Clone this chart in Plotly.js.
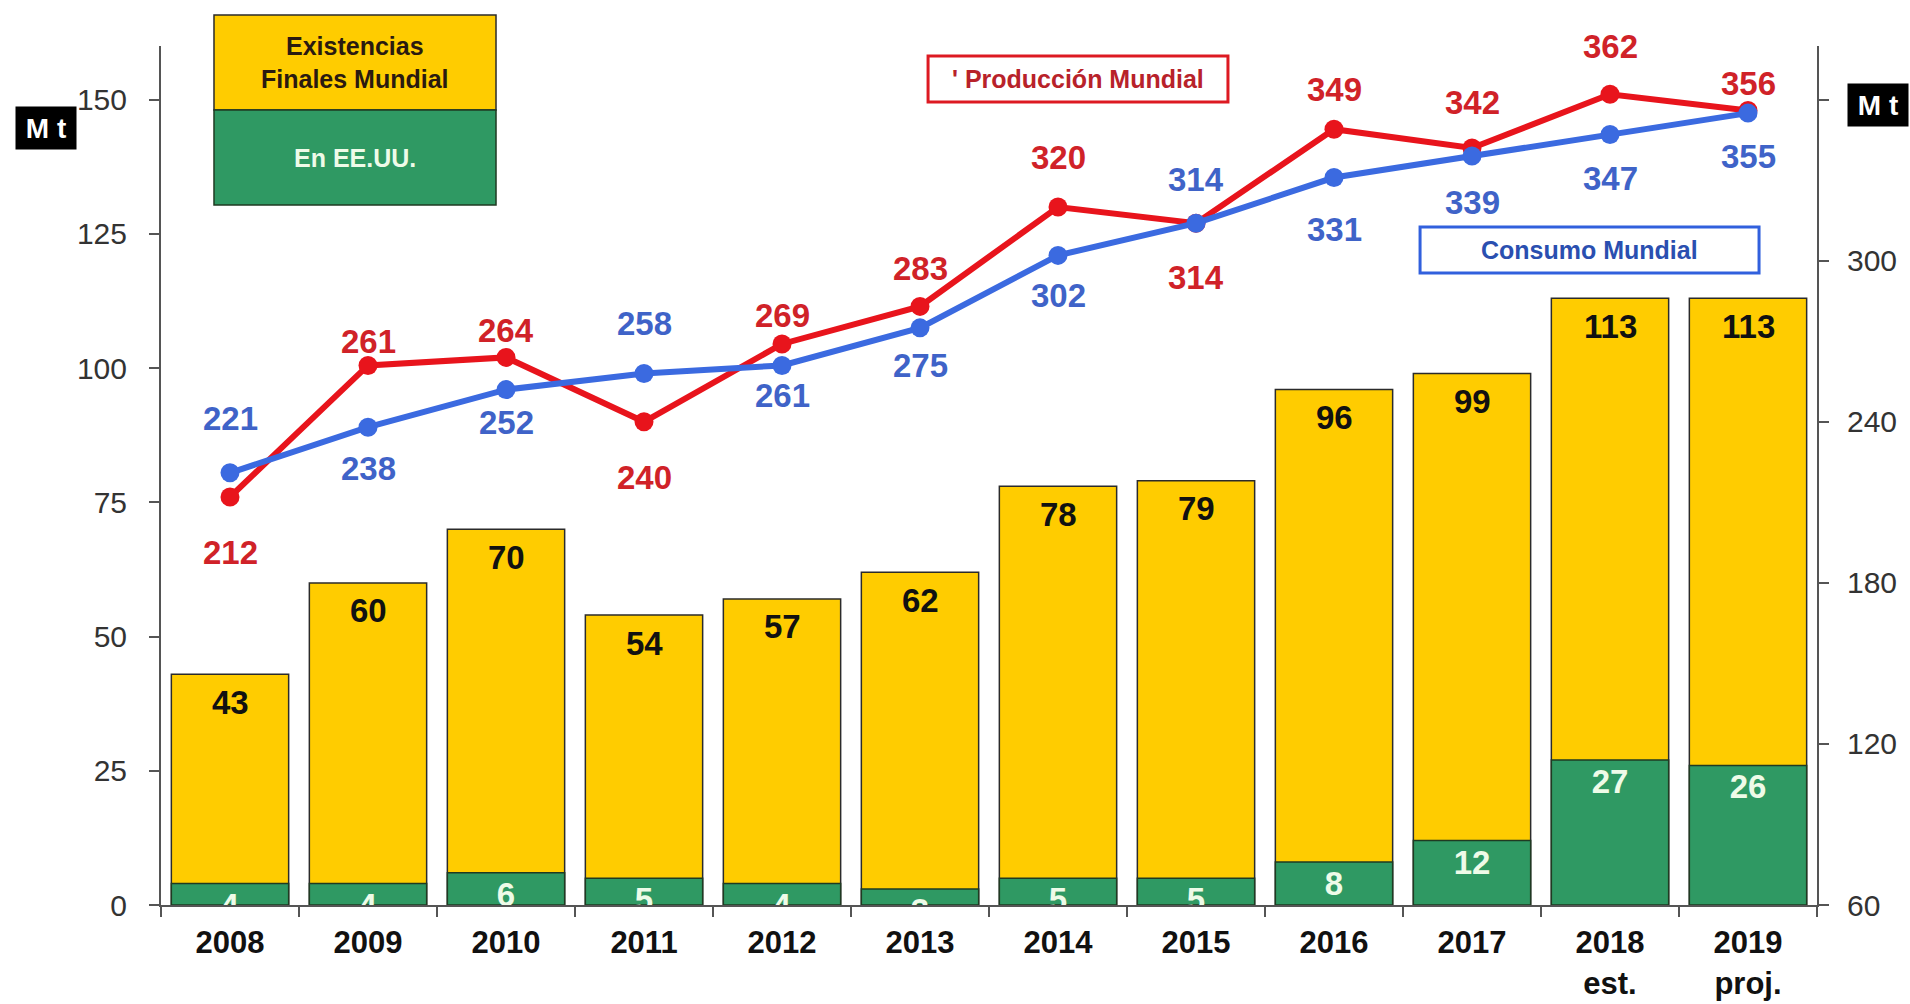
<!DOCTYPE html>
<html><head><meta charset="utf-8">
<script src="https://cdn.plot.ly/plotly-3.0.1.min.js"></script>
<style>html,body{margin:0;padding:0;background:#fff}#chart{width:1910px;height:1004px}</style>
</head><body><div id="chart"></div>
<script>
// ---- data ----
const years = ['2008','2009','2010','2011','2012','2013','2014','2015','2016','2017','2018','2019'];
const yearLabels = ['2008','2009','2010','2011','2012','2013','2014','2015','2016','2017','2018<br>est.','2019<br>proj.'];
const worldStocks = [43, 60, 70, 54, 57, 62, 78, 79, 96, 99, 113, 113];
const usStocks = [4, 4, 6, 5, 4, 3, 5, 5, 8, 12, 27, 26];
const production = [212, 261, 264, 240, 269, 283, 320, 314, 349, 342, 362, 356];
const consumption = [221, 238, 252, 258, 261, 275, 302, 314, 331, 339, 347, 355];
const leftTicks = [0, 25, 50, 75, 100, 125, 150];
const rightTicks = [60, 120, 180, 240, 300, 360];
const rightTickText = ['60', '120', '180', '240', '300', ''];

// ---- label offsets (px, + = up) ----
const prodShift = [-56, 24, 27, -56, 28, 38, 50, -54, 40, 46, 48, 27];
const consShift = [54, -41, -33, 50, -30, -38, -40, 44, -52, -46, -44, -43];

const FONT = 'Liberation Sans, Arial, sans-serif';
const RED = '#e8141c', BLUE = '#3b6ae0';
const RED_TXT = '#d02228', BLUE_TXT = '#3f63c8';
const YELLOW = '#ffcc00', GREEN = '#2f9963';
const LBL = 33;

const traces = [
  {type:'bar', x: years, y: worldStocks, name:'Existencias Finales Mundial',
   marker:{color: YELLOW, line:{color:'#2b2b2b', width:1.5}}, hoverinfo:'skip'},
  {type:'bar', x: years, y: usStocks, name:'En EE.UU.',
   marker:{color: GREEN, line:{color:'#1f3a22', width:1.5}},
   text: usStocks.map(String), textposition:'inside', insidetextanchor:'end',
   textangle:0, constraintext:'none', cliponaxis:true,
   textfont:{family: FONT, size:LBL, color:'#eefbe8', weight:'bold'}, hoverinfo:'skip'},
  {type:'scatter', mode:'lines+markers', x: years, y: production, yaxis:'y2', name:'Producción Mundial',
   line:{color: RED, width:6}, marker:{color: RED, size:19}, hoverinfo:'skip'},
  {type:'scatter', mode:'lines+markers', x: years, y: consumption, yaxis:'y2', name:'Consumo Mundial',
   line:{color: BLUE, width:6}, marker:{color: BLUE, size:19}, hoverinfo:'skip'}
];

const annotations = [];
years.forEach((yr, i) => {
  annotations.push({x: i, y: worldStocks[i], xref:'x', yref:'y', text: String(worldStocks[i]),
    showarrow:false, xanchor:'center', yanchor:'middle', yshift:-28,
    font:{family: FONT, size:LBL, color:'#111', weight:'bold'}});
  annotations.push({x: i, y: production[i], xref:'x', yref:'y2', text: String(production[i]),
    showarrow:false, xanchor:'center', yanchor:'middle', yshift: prodShift[i],
    font:{family: FONT, size:LBL, color: RED_TXT, weight:'bold'}});
  annotations.push({x: i, y: consumption[i], xref:'x', yref:'y2', text: String(consumption[i]),
    showarrow:false, xanchor:'center', yanchor:'middle', yshift: consShift[i],
    font:{family: FONT, size:LBL, color: BLUE_TXT, weight:'bold'}});
});

const paperNote = (x, y, text, font, extra) => Object.assign({xref:'paper', yref:'paper', x, y, text,
  showarrow:false, xanchor:'center', yanchor:'middle', font}, extra || {});

// unit boxes
annotations.push(paperNote(-0.0694, 0.9045, 'M t', {family: FONT, size:28, color:'#fff', weight:'bold'},
  {bgcolor:'#000', width:58, height:40}));
annotations.push(paperNote(1.0368, 0.931, 'M t', {family: FONT, size:28, color:'#fff', weight:'bold'},
  {bgcolor:'#000', width:58, height:40}));

// legend texts
annotations.push(paperNote(0.117, 0.981, 'Existencias<br>Finales Mundial', {family: FONT, size:25, color:'#2a1a10', weight:'bold'}));
annotations.push(paperNote(0.117, 0.870, 'En EE.UU.', {family: FONT, size:25, color:'#eefbe8', weight:'bold'}));
annotations.push(paperNote(0.5538, 0.9616, "' Producción Mundial", {family: FONT, size:25, color:'#b8222a', weight:'bold'}));
annotations.push(paperNote(0.8629, 0.7625, 'Consumo Mundial', {family: FONT, size:25, color:'#2a4fb0', weight:'bold'}));

const shapes = [
  {type:'rect', xref:'paper', yref:'paper', x0:0.032, x1:0.2023, y0:0.9255, y1:1.036,
   fillcolor: YELLOW, line:{color:'#2b2b2b', width:1.5}},
  {type:'rect', xref:'paper', yref:'paper', x0:0.032, x1:0.2023, y0:0.8149, y1:0.9255,
   fillcolor: GREEN, line:{color:'#1f3a22', width:1.5}},
  {type:'rect', xref:'paper', yref:'paper', x0:0.4632, x1:0.6443, y0:0.9348, y1:0.9884,
   fillcolor:'#fff', line:{color:'#dd1a22', width:3}},
  {type:'rect', xref:'paper', yref:'paper', x0:0.7603, x1:0.965, y0:0.7357, y1:0.7893,
   fillcolor:'#fff', line:{color:'#3160dd', width:3}}
];

const layout = {
  width:1910, height:1004,
  margin:{l:161, r:93, t:46, b:99},
  paper_bgcolor:'#fff', plot_bgcolor:'#fff',
  barmode:'overlay', bargap:0.15,
  showlegend:false, hovermode:false,
  xaxis:{type:'category', range:[-0.5, 11.5], autorange:false, tickvals: years, ticktext: yearLabels,
    ticks:'outside', tickson:'boundaries', ticklen:10, tickwidth:2, tickcolor:'#555',
    showline:true, linecolor:'#555', linewidth:2, showgrid:false, zeroline:false,
    ticklabelstandoff:9,
    tickfont:{family: FONT, size:31, color:'#111', weight:'bold'}},
  yaxis:{range:[0,160], autorange:false, tickvals: leftTicks, ticks:'outside', ticklen:10, tickwidth:2, tickcolor:'#555',
    showline:true, linecolor:'#555', linewidth:2, showgrid:false, zeroline:false,
    ticklabelstandoff:16,
    tickfont:{family: FONT, size:30, color:'#333'}},
  yaxis2:{range:[60,380], autorange:false, overlaying:'y', side:'right', tickvals: rightTicks, ticktext: rightTickText,
    ticks:'outside', ticklen:10, tickwidth:2, tickcolor:'#555',
    showline:true, linecolor:'#555', linewidth:2, showgrid:false, zeroline:false,
    ticklabelstandoff:12,
    tickfont:{family: FONT, size:30, color:'#333'}},
  annotations: annotations,
  shapes: shapes
};

Plotly.newPlot('chart', traces, layout, {displayModeBar:false, staticPlot:true});
</script>
</body></html>
